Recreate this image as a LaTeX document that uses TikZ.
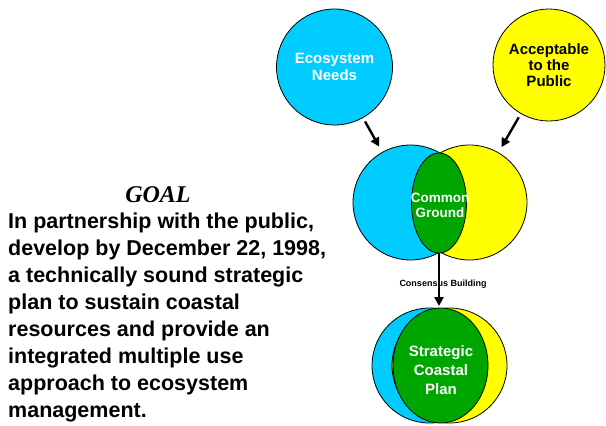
\documentclass[tikz,border=0pt]{standalone}
\usepackage{fontspec}
\setmainfont{Liberation Sans}
\newfontfamily\goalfont{Liberation Serif}
\usetikzlibrary{arrows.meta}
\definecolor{skyblue}{HTML}{00CCFF}
\definecolor{sunyellow}{HTML}{FFFF00}
\definecolor{leafgreen}{HTML}{00A600}

\tikzset{
  disc/.style={circle,draw=black,line width=0.8pt,inner sep=0pt,minimum size=116pt},
  arr/.style={-{Triangle[length=9pt,width=9pt]},line width=2.4pt},
}

\begin{document}
\begin{tikzpicture}[x=1pt,y=-1pt]
        \useasboundingbox (0,0) rectangle (606,426);
        % top circles
        \node[disc,fill=skyblue,minimum size=116pt,text=white,align=center,
              font=\bfseries\fontsize{15}{17}\selectfont] (eco) at (334.5,67) {Ecosystem\\Needs};
        \node[disc,fill=sunyellow,minimum size=112pt,align=center,
              font=\bfseries\fontsize{15}{16}\selectfont] (pub) at (549,65) {Acceptable\\to the\\Public};
        % middle venn
        \node[disc,fill=skyblue,minimum size=115pt] (venl) at (410.5,202.5) {};
        \node[disc,fill=sunyellow,minimum size=115pt] (venr) at (469.5,202.5) {};
        \draw[line width=0.8pt,fill=leafgreen] (439,203) ellipse[x radius=27.5,y radius=50];
        \node[text=white,align=center,inner sep=0pt,
              font=\bfseries\fontsize{13.5}{15}\selectfont] (cg) at (440,205.5) {Common\\Ground};
        \coordinate (cgb) at (439,253);
        % bottom venn
        \node[disc,fill=skyblue,minimum size=115pt] (botl) at (429.5,365.5) {};
        \node[disc,fill=sunyellow,minimum size=115pt] (botr) at (449.5,365.5) {};
        \draw[line width=0.8pt,fill=leafgreen] (440.5,365.5) ellipse[x radius=47.5,y radius=57.5];
        \node[text=white,align=center,inner sep=0pt,
              font=\bfseries\fontsize{15}{19}\selectfont] (scp) at (441,370) {Strategic\\Coastal\\Plan};
        \coordinate (scpt) at (439,306);
        % arrows
        \draw[arr,shorten <=4pt,shorten >=6pt] (eco) -- (venl);
        \draw[arr,shorten <=4pt,shorten >=6pt] (pub) -- (venr);
        \draw[arr] (cgb) -- (scpt);
        \node[font=\bfseries\fontsize{9}{10}\selectfont] (cons) at (443,284) {Consensus Building};
        % goal text
        \node[font=\goalfont\bfseries\itshape\fontsize{24}{26}\selectfont,anchor=base] (goal) at (158,202) {GOAL};
        \node[anchor=north west,inner sep=0pt,align=left,
              font=\bfseries\fontsize{21.5}{26.9}\selectfont] (txt) at (8,213)
              {In partnership with the public,\\develop by December 22, 1998,\\a technically sound strategic\\plan to sustain coastal\\resources and provide an\\integrated multiple use\\approach to ecosystem\\management.};
\end{tikzpicture}
\end{document}
